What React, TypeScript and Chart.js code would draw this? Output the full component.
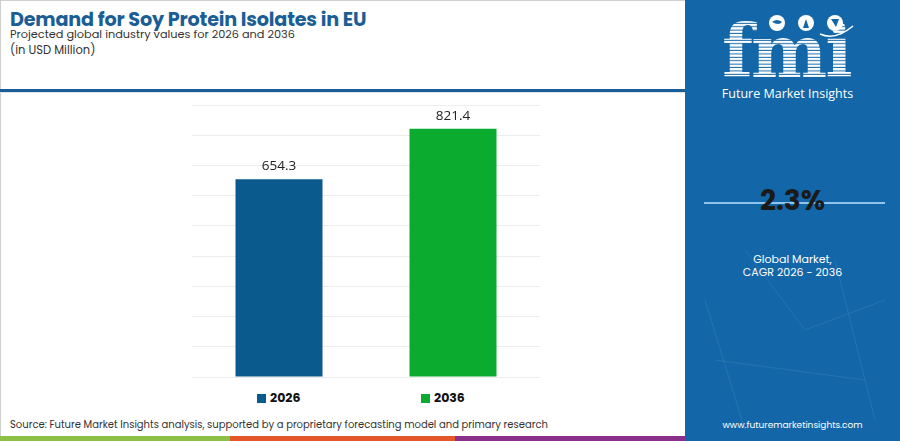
import React, { useEffect, useRef } from "react";
import { Chart, registerables } from "chart.js";
Chart.register(...registerables);

const categories = ["2026", "2036"];
const values = [654.3, 821.4];
const barColors = ["#0b5a8e", "#0aab2f"];
const yMax = 900;
const yStep = 100;

const titleText = "Demand for Soy Protein Isolates in EU";
const subtitleText = "Projected global industry values for 2026 and 2036";
const unitText = "(in USD Million)";
const sourceText = "Source: Future Market Insights analysis, supported by a proprietary forecasting model and primary research";
const cagrText = "2.3%";
const cagrLabel1 = "Global Market,";
const cagrLabel2 = "CAGR 2026 - 2036";
const siteText = "www.futuremarketinsights.com";

const FONT = "Poppins, 'Open Sans', Inter, sans-serif";
const PANEL = "#1367a8";
const TITLE_BLUE = "#1b5e96";

export default function App() {
  const ref = useRef<HTMLCanvasElement | null>(null);
  useEffect(() => {
    if (!ref.current) return;
    const labelPlugin = {
      id: "barLabels",
      afterDatasetsDraw(chart: any) {
        const ctx = chart.ctx;
        const meta = chart.getDatasetMeta(0);
        ctx.save();
        ctx.font = "13.5px 'Open Sans', Inter, sans-serif";
        ctx.fillStyle = "#222";
        ctx.textAlign = "center";
        ctx.textBaseline = "middle";
        meta.data.forEach((bar: any, i: number) => {
          ctx.fillText(values[i].toFixed(1), bar.x, bar.y - 13);
        });
        ctx.restore();
      },
    };
    const chart = new Chart(ref.current, {
      type: "bar",
      data: {
        labels: categories,
        datasets: [
          {
            data: values,
            backgroundColor: barColors,
            borderWidth: 0,
            barPercentage: 0.5,
            categoryPercentage: 1,
          },
        ],
      },
      options: {
        animation: false,
        responsive: false,
        maintainAspectRatio: false,
        layout: { padding: { left: 20, right: 20, top: 20, bottom: 8 } },
        plugins: { legend: { display: false }, tooltip: { enabled: false } },
        scales: {
          x: { display: false },
          y: {
            display: true,
            min: 0,
            max: yMax,
            ticks: { display: false, stepSize: yStep },
            border: { display: false },
            grid: { color: "#ededed", lineWidth: 1, drawTicks: false },
          },
        },
      },
      plugins: [labelPlugin],
    });
    return () => chart.destroy();
  }, []);

  const abs = (s: React.CSSProperties): React.CSSProperties => ({ position: "absolute", ...s });

  return (
    <div style={abs({ left: 0, top: 0, width: 900, height: 441, background: "#fff", overflow: "hidden", fontFamily: FONT })}>
      {/* outer border of left area */}
      <div style={abs({ left: 0, top: 0, width: 685, height: 1, background: "#cfcfcf" })} />
      <div style={abs({ left: 0, top: 0, width: 1, height: 436, background: "#cfcfcf" })} />
      {/* header */}
      <div style={abs({ left: 10, top: 7, fontSize: 19.2, fontWeight: 700, color: TITLE_BLUE, whiteSpace: "nowrap", letterSpacing: -0.2, lineHeight: "26px" })}>{titleText}</div>
      <div style={abs({ left: 10, top: 26, fontSize: 11.3, color: "#333", whiteSpace: "nowrap", lineHeight: "16px" })}>{subtitleText}</div>
      <div style={abs({ left: 10, top: 42, fontSize: 11.5, color: "#333", whiteSpace: "nowrap", lineHeight: "16px" })}>{unitText}</div>
      <div style={abs({ left: 0, top: 89, width: 685, height: 3, background: TITLE_BLUE })} />
      <div style={abs({ left: 0, top: 92, width: 685, height: 1, background: "#d9e3ee" })} />

      {/* chart */}
      <canvas ref={ref} width={388} height={300} style={abs({ left: 172, top: 85, width: 388, height: 300 })} />

      {/* legend */}
      {categories.map((c, i) => (
        <div key={c} style={abs({ left: i === 0 ? 257 : 421, top: 389, display: "flex", alignItems: "center", whiteSpace: "nowrap" })}>
          <span style={{ display: "inline-block", width: 9, height: 9, background: barColors[i], marginRight: 4 }} />
          <span style={{ fontSize: 12.5, fontWeight: 700, color: "#111" }}>{c}</span>
        </div>
      ))}

      {/* source */}
      <div style={abs({ left: 10, top: 418, fontSize: 10, color: "#333", whiteSpace: "nowrap", lineHeight: "14px" })}>{sourceText}</div>

      {/* bottom stripe */}
      <div style={abs({ left: 0, top: 436, width: 230, height: 5, background: "#8cc045" })} />
      <div style={abs({ left: 230, top: 436, width: 225, height: 5, background: "#e4572a" })} />
      <div style={abs({ left: 455, top: 436, width: 230, height: 5, background: "#8a2f8a" })} />

      {/* right panel */}
      <div style={abs({ left: 685, top: 0, width: 215, height: 441, background: PANEL })}>
        <svg width={215} height={441} style={{ position: "absolute", left: 0, top: 0 }}>
          <defs>
            <pattern id="stripes" width="4" height="3.4" patternUnits="userSpaceOnUse">
              <rect x="0" y="0" width="4" height="2.4" fill="#ffffff" />
            </pattern>
          </defs>
          <g opacity="0.12" stroke="#cfe6ff" strokeWidth="0.8">
            <line x1="20" y1="300" x2="60" y2="430" />
            <line x1="60" y1="250" x2="120" y2="330" />
            <line x1="120" y1="330" x2="200" y2="300" />
            <line x1="30" y1="360" x2="180" y2="380" />
            <line x1="150" y1="260" x2="190" y2="420" />
          </g>
          <text x="37" y="77" fontFamily="'DejaVu Serif', 'Liberation Serif', serif" fontWeight="700" fontSize="72" fill="url(#stripes)" letterSpacing="-2">fmi</text>
          <circle cx="92" cy="23" r="8" fill="#fff" />
          <circle cx="121" cy="23" r="8" fill="#fff" />
          <circle cx="150" cy="23" r="8" fill="#fff" />
          <path d="M87 22 q5 -4 10 0 q-3 4 -10 0" fill={PANEL} />
          <path d="M118 28 l3 -9 l3 9 z" fill={PANEL} />
          <path d="M146 19 h8 l-3 8 z" fill={PANEL} />
          <path d="M135 34 Q150 41 168 26" stroke="#fff" strokeWidth="1.5" fill="none" />
        </svg>
        <div style={abs({ left: -5, width: 215, top: 85, textAlign: "center", fontSize: 12.5, color: "#fff", whiteSpace: "nowrap", fontFamily: "'Open Sans', sans-serif" })}>Future Market Insights</div>
        <div style={abs({ left: 19, top: 202, width: 181, height: 2, background: "#8fc4ec" })} />
        <div style={abs({ left: 0, width: 215, top: 180, textAlign: "center", fontSize: 28, fontWeight: 700, color: "#1a1a1a", whiteSpace: "nowrap" })}>{cagrText}</div>
        <div style={abs({ left: 0, width: 215, top: 253, textAlign: "center", fontSize: 11, color: "#fff", whiteSpace: "nowrap", lineHeight: "13px" })}>
          {cagrLabel1}
          <br />
          {cagrLabel2}
        </div>
        <div style={abs({ left: 0, width: 215, top: 419, textAlign: "center", fontSize: 9, color: "#fff", whiteSpace: "nowrap" })}>{siteText}</div>
      </div>
    </div>
  );
}
